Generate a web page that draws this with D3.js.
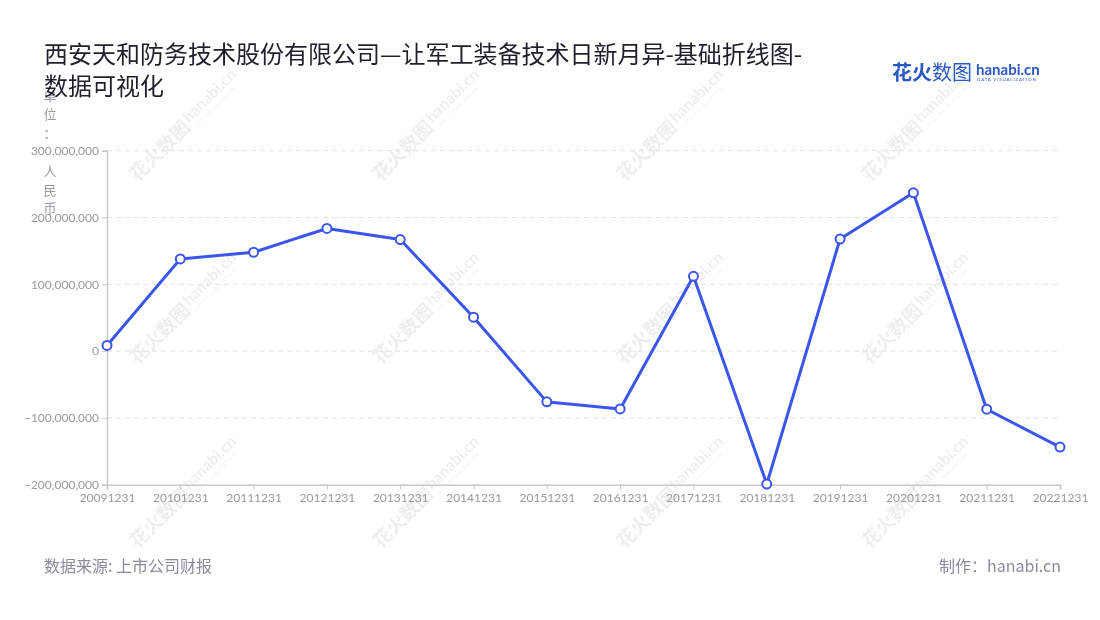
<!DOCTYPE html>
<html><head><meta charset="utf-8">
<script src="https://cdn.jsdelivr.net/npm/d3@7"></script>
<style>
html,body{margin:0;padding:0;background:#fff;}
svg{display:block;font-family:Lato,"Noto Sans CJK SC",sans-serif;}
</style></head>
<body>
<svg id="chart" width="1100" height="620"></svg>
<script>
const categories = ["20091231","20101231","20111231","20121231","20131231","20141231","20151231","20161231","20171231","20181231","20191231","20201231","20211231","20221231"];
const values = [8500000,138000000,148000000,183600000,167000000,50700000,-76000000,-86600000,112000000,-199000000,167800000,236900000,-87000000,-143700000];
const yTicks = [-200000000,-100000000,0,100000000,200000000,300000000];
const titleLines = ["西安天和防务技术股份有限公司—让军工装备技术日新月异-基础折线图-","数据可视化"];
const unitLabel = ["单","位","：","人","民","币"];
const sourceText = "数据来源: 上市公司财报";
const makerText = "制作：hanabi.cn";

const svg = d3.select("#chart");
const plotLeft = 107, plotRight = 1060, plotTop = 150.7, plotBottom = 484.7;
const x = d3.scalePoint().domain(categories).range([plotLeft, plotRight]).padding(0);
const y = d3.scaleLinear().domain([-200000000, 300000000]).range([plotBottom, plotTop]);

// watermarks
const wmX = [185, 428, 672, 917];
const wmY = [125, 308, 492];
const wm = svg.append("g").attr("opacity", 0.07);
wmY.forEach(cy => wmX.forEach(cx => {
  const g = wm.append("g").attr("transform", `translate(${cx},${cy}) rotate(-45)`);
  g.append("text").attr("x", -74).attr("y", 7).attr("font-family", "Noto Sans CJK SC").attr("font-weight", 700)
    .attr("font-size", 19).attr("fill", "#000").text("花火数图");
  g.append("text").attr("x", 4).attr("y", 2).attr("font-family", "Lato").attr("font-weight", 700)
    .attr("font-size", 16).attr("fill", "#000").text("hanabi.cn");
  g.append("text").attr("x", 6).attr("y", 10).attr("font-family", "Lato")
    .attr("font-size", 4.5).attr("letter-spacing", 0.6).attr("fill", "#000").text("DATA VISUALIZATION");
}));

// grid
svg.append("g").selectAll("line").data(yTicks.filter(d => d !== -200000000)).join("line")
  .attr("x1", plotLeft).attr("x2", plotRight).attr("y1", d => y(d)).attr("y2", d => y(d))
  .attr("stroke", "#e0e0e0").attr("stroke-width", 1).attr("stroke-dasharray", "5,4");

// y axis
const yAxis = svg.append("g").attr("transform", `translate(${plotLeft},0)`)
  .call(d3.axisLeft(y).tickValues(yTicks).tickFormat(d3.format(",")).tickSize(5).tickPadding(3));
yAxis.select(".domain").attr("stroke", "#c8c8c8").attr("stroke-width", 1.5);
yAxis.selectAll(".tick line").attr("stroke", "#c8c8c8");
yAxis.selectAll(".tick text").attr("fill", "#9a9a9a").attr("font-size", 12).attr("font-family", "Lato");

// x axis
const xAxis = svg.append("g").attr("transform", `translate(0,${plotBottom})`)
  .call(d3.axisBottom(x).tickSize(5).tickPadding(4));
xAxis.select(".domain").attr("stroke", "#c8c8c8").attr("stroke-width", 1.5);
xAxis.selectAll(".tick line").attr("stroke", "#c8c8c8");
xAxis.selectAll(".tick text").attr("fill", "#9a9a9a").attr("font-size", 12).attr("font-family", "Lato");

// unit label
svg.append("g").selectAll("text").data(unitLabel).join("text")
  .attr("x", 50).attr("y", (d, i) => [101, 119, 138, 176, 195, 213][i])
  .attr("text-anchor", "middle").attr("font-size", 13).attr("fill", "#9a9aa8")
  .attr("font-family", "Noto Sans CJK SC").text(d => d);

// line
const line = d3.line().x((d, i) => x(categories[i])).y(d => y(d));
svg.append("path").datum(values).attr("d", line).attr("fill", "none")
  .attr("stroke", "#3a56ec").attr("stroke-width", 3).attr("stroke-linejoin", "round");
svg.append("g").selectAll("circle").data(values).join("circle")
  .attr("cx", (d, i) => x(categories[i])).attr("cy", d => y(d)).attr("r", 4.5)
  .attr("fill", "#fff").attr("stroke", "#3a56ec").attr("stroke-width", 2);

// title
svg.append("g").selectAll("text").data(titleLines).join("text")
  .attr("x", 44).attr("y", (d, i) => 63 + i * 32)
  .attr("font-size", 24).attr("fill", "#1f1f2e").attr("font-family", "Noto Sans CJK SC")
  .text(d => d);

// logo
const logo = svg.append("g");
logo.append("text").attr("x", 892).attr("y", 80).attr("font-family", "Noto Sans CJK SC").attr("font-weight", 700)
  .attr("font-size", 20).attr("fill", "#2b59c3").text("花火");
logo.append("text").attr("x", 932).attr("y", 80).attr("font-family", "Noto Sans CJK SC").attr("font-weight", 400)
  .attr("font-size", 20).attr("fill", "#2b59c3").text("数图");
logo.append("text").attr("x", 976).attr("y", 75).attr("font-family", "Lato").attr("font-weight", 700)
  .attr("font-size", 15).attr("fill", "#2b59c3").text("hanabi.cn");
logo.append("text").attr("x", 977).attr("y", 81).attr("font-family", "Lato")
  .attr("font-size", 4.5).attr("letter-spacing", 0.8).attr("fill", "#2b59c3").text("DATA VISUALIZATION");

// footer
svg.append("text").attr("x", 44).attr("y", 572).attr("font-size", 16).attr("fill", "#8a8aa0")
  .attr("font-family", "Noto Sans CJK SC").text(sourceText);
svg.append("text").attr("x", 1061).attr("y", 572).attr("text-anchor", "end").attr("font-size", 16).attr("fill", "#8a8aa0")
  .attr("font-family", "Noto Sans CJK SC").text(makerText);
</script>
</body></html>
